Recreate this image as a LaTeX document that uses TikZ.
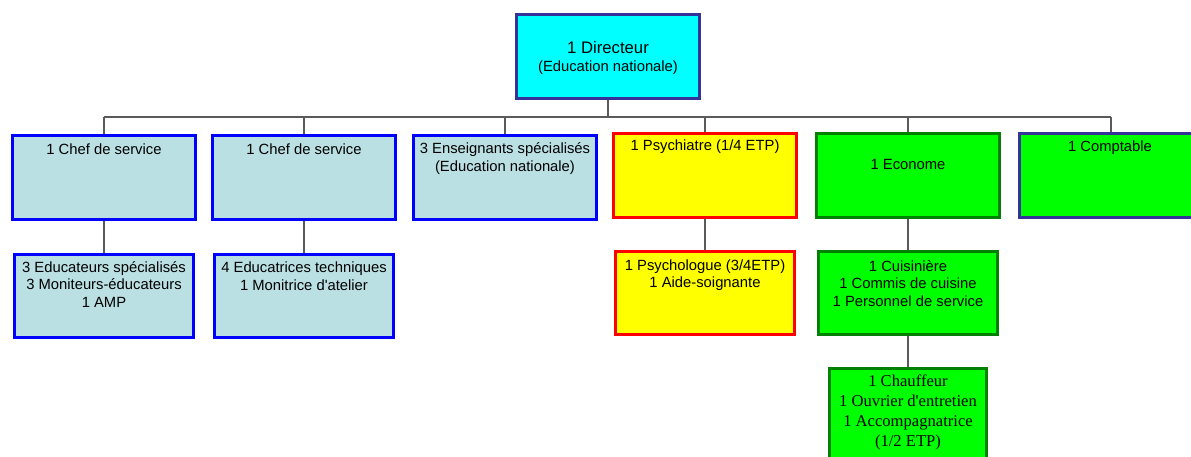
\documentclass[tikz,border=0pt]{standalone}
\usepackage{fontspec}
\setmainfont{Liberation Sans}[Ligatures=TeXOff]
\newfontfamily\serifx{Liberation Serif}
\definecolor{lblue}{RGB}{187,224,227}
\definecolor{bblue}{RGB}{0,0,255}
\definecolor{dirb}{RGB}{51,51,153}
\definecolor{cyanf}{RGB}{0,255,255}
\definecolor{yel}{RGB}{255,255,0}
\definecolor{redb}{RGB}{255,0,0}
\definecolor{grn}{RGB}{0,255,0}
\definecolor{dgrn}{RGB}{0,128,0}
\definecolor{linec}{RGB}{90,90,90}
\begin{document}
\begin{tikzpicture}[x=1pt,y=-1pt,
  box/.style={draw, line width=3pt, inner sep=0pt, minimum width=183, minimum height=84},
  smallbox/.style={box, minimum width=179, minimum height=83},
  bluebox/.style={fill=lblue, draw=bblue},
  redbox/.style={fill=yel, draw=redb},
  greenbox/.style={fill=grn, draw=dgrn},
  txt/.style={align=center, inner sep=0pt, font=\fontsize{14.8}{17.6}\selectfont},
  stxt/.style={align=center, inner sep=0pt, font=\serifx\fontsize{16.6}{20.2}\selectfont},
  conn/.style={draw=linec, line width=1.2pt}]
\useasboundingbox (0,0) rectangle (1191,457);
\clip (0,0) rectangle (1191,457);
% boxes
\node[box, fill=cyanf, draw=dirb] (dir) at (608,56.5) {};
\node[box, bluebox] (cs1) at (104,177.5) {};
\node[box, bluebox] (cs2) at (304,177.5) {};
\node[box, bluebox] (ens) at (505,177.5) {};
\node[box, redbox] (psy) at (705,175.5) {};
\node[box, greenbox] (eco) at (908,175.5) {};
\node[box, fill=grn, draw=dirb] (cpt) at (1111,175.5) {};
\node[smallbox, bluebox] (edu) at (104,295.5) {};
\node[smallbox, bluebox] (tech) at (304,295.5) {};
\node[smallbox, redbox] (psl) at (705,293) {};
\node[smallbox, greenbox] (cui) at (908,293) {};
\node[box, greenbox, minimum width=157, minimum height=110] (chf) at (908,423.5) {};
% connectors
\coordinate (bus) at (0,117);
\draw[conn] (dir.south) -- (dir.south |- bus);
\draw[conn] (cs1.north |- bus) -- (cpt.north |- bus);
\foreach \n in {cs1,cs2,ens,psy,eco,cpt} {
  \draw[conn] (\n.north |- bus) -- (\n.north);
}
\draw[conn] (cs1.south) -- (edu.north);
\draw[conn] (cs2.south) -- (tech.north);
\draw[conn] (psy.south) -- (psl.north);
\draw[conn] (eco.south) -- (cui.north);
\draw[conn] (cui.south) -- (chf.north);
% texts
\node[txt] (tdir) at (608,58) {{\fontsize{16.7}{19}\selectfont 1 Directeur}\\(Education nationale)};
\node[txt] (tcs1) at (104,149.5) {1 Chef de service};
\node[txt] (tcs2) at (304,149.5) {1 Chef de service};
\node[txt] (tens) at (505,158.5) {3 Enseignants spécialisés\\(Education nationale)};
\node[txt] (tpsy) at (705,146.5) {1 Psychiatre (1/4 ETP)};
\node[txt] (teco) at (908,164.5) {1 Econome};
\node[txt] (tcpt) at (1110,147.5) {1 Comptable};
\node[txt] (tedu) at (104,284.5) {3 Educateurs spécialisés\\3 Moniteurs-éducateurs\\1 AMP};
\node[txt] (ttech) at (304,276) {4 Educatrices techniques\\1 Monitrice d'atelier};
\node[txt] (tpsl) at (705,275) {1 Psychologue (3/4ETP)\\1 Aide-soignante};
\node[txt] (tcui) at (908,283.5) {1 Cuisinière\\1 Commis de cuisine\\ 1 Personnel de service};
\node[stxt] (tchf) at (908,412.5) {1 Chauffeur\\1 Ouvrier d'entretien\\1 Accompagnatrice\\(1/2 ETP)};
\end{tikzpicture}
\end{document}
